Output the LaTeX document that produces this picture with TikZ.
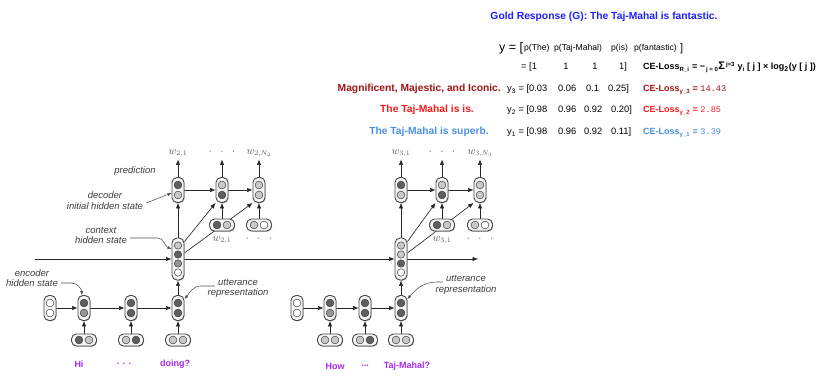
\documentclass[tikz,border=0pt]{standalone}
\usepackage{fontspec}
\setmainfont{Liberation Sans}
\newfontfamily\monofont{Liberation Mono}
\usetikzlibrary{arrows.meta,backgrounds,shadows}
\definecolor{goldblue}{RGB}{30,30,245}
\definecolor{darkred}{RGB}{160,20,20}
\definecolor{brightred}{RGB}{250,25,25}
\definecolor{lightblue}{RGB}{74,144,226}
\definecolor{wordpurple}{RGB}{165,40,245}
\definecolor{celldark}{RGB}{95,95,95}
\definecolor{cellmid}{RGB}{150,150,150}
\definecolor{celllight}{RGB}{200,200,200}
\definecolor{labelgray}{RGB}{60,60,60}
\definecolor{mathgray}{RGB}{85,85,85}
\newcommand\vcell[4]{%
  \node[vbox] (#1) at (#2) {};
  \node[dot,fill=#3] (#1a) at ([yshift=5pt]#1.center) {};
  \node[dot,fill=#4] (#1b) at ([yshift=-5pt]#1.center) {};}
\newcommand\hcell[4]{%
  \node[hbox] (#1) at (#2) {};
  \node[dot,fill=#3] (#1a) at ([xshift=-5pt]#1.center) {};
  \node[dot,fill=#4] (#1b) at ([xshift=5pt]#1.center) {};}
\newcommand\ccell[6]{%
  \node[cbox] (#1) at (#2) {};
  \node[cdot,fill=#3] (#1a) at ([yshift=13.5pt]#1.center) {};
  \node[cdot,fill=#4] (#1b) at ([yshift=4.5pt]#1.center) {};
  \node[cdot,fill=#5] (#1c) at ([yshift=-4.5pt]#1.center) {};
  \node[cdot,fill=#6] (#1d) at ([yshift=-13.5pt]#1.center) {};}
\begin{document}
\begin{tikzpicture}[x=1pt,y=-1pt,
  cellbox/.style={draw=black!72,line width=0.9pt,fill=black!4,rounded corners=5pt,inner sep=0pt,
    drop shadow={shadow xshift=0.6pt,shadow yshift=-0.8pt,opacity=0.45,fill=black!60}},
  vbox/.style={cellbox,minimum width=12pt,minimum height=25pt},
  hbox/.style={cellbox,minimum width=25pt,minimum height=12pt},
  cbox/.style={cellbox,minimum width=12pt,minimum height=42pt},
  dot/.style={circle,draw=black!75,line width=0.5pt,minimum size=7.8pt,inner sep=0pt},
  cdot/.style={circle,draw=black!75,line width=0.5pt,minimum size=7.4pt,inner sep=0pt},
  arr/.style={draw=black!85,line width=0.65pt,-{Latex[length=5.5pt,width=4.5pt]}},
  call/.style={draw=black!70,line width=0.55pt,-{Latex[length=4pt,width=3.2pt]}},
  lbl/.style={font=\fontsize{9.5}{10}\selectfont\itshape,text=labelgray,inner sep=1pt},
  wlbl/.style={font=\fontsize{10.5}{12}\selectfont,text=mathgray,inner sep=1pt,text height=5pt,text depth=2.5pt},
  word/.style={font=\fontsize{9}{10}\selectfont\bfseries,text=wordpurple,inner sep=1pt},
  row/.style={font=\fontsize{9.3}{11}\selectfont,anchor=base west,inner sep=0pt},
  small/.style={font=\fontsize{8.6}{10}\selectfont,anchor=base west,inner sep=0pt},
  ce/.style={font=\fontsize{9}{10}\selectfont\bfseries,anchor=base west,inner sep=0pt},
  sent/.style={font=\fontsize{10.3}{12}\selectfont\bfseries,anchor=base,inner sep=0pt}
]
\useasboundingbox (0,0) rectangle (831,385);

% ---------------- top text ----------------
\node[sent,text=goldblue] (gold) at (604,20) {Gold Response (G): The Taj-Mahal is fantastic.};

\node[row,font=\fontsize{12.5}{14}\selectfont] (yeq) at (499,52) {y = [};
\node[small] (pthe) at (524,51) {p(The)};
\node[small] (ptaj) at (554,51) {p(Taj-Mahal)};
\node[small] (pis) at (611,51) {p(is)};
\node[small] (pfan) at (634,51) {p(fantastic)};
\node[row,font=\fontsize{11}{13}\selectfont] (pclose) at (680,52) {]};

\node[row] (g1) at (521,70) {= [1};
\node[row,anchor=base] (g2) at (566,70) {1};
\node[row,anchor=base] (g3) at (595,70) {1};
\node[row] (g4) at (619,70) {1]};
\node[ce] (ce0) at (643,70) {CE-Loss\textsubscript{R\_i} = −\textsubscript{\,j = 0}{\fontsize{11}{11}\selectfont Σ}\textsuperscript{\,j=3} y\textsubscript{i} [ j ] × log\textsubscript{\scriptsize 2}(y [ j ])};

\node[sent,anchor=base east,text=darkred] (s3) at (501,92) {Magnificent, Majestic, and Iconic.};
\node[row] (a3) at (507,92) {y\textsubscript{3} = [0.03};
\node[row] (b3) at (558,92) {0.06};
\node[row] (c3) at (586,92) {0.1};
\node[row] (d3) at (608,92) {0.25]};
\node[ce,text=darkred] (ce3) at (643,92) {CE-Loss\textsubscript{y\_3} = {\monofont\mdseries\fontsize{8.6}{10}\selectfont 14.43}};

\node[sent,text=brightred] (s2) at (427,113) {The Taj-Mahal is is.};
\node[row] (a2) at (507,113) {y\textsubscript{2} = [0.98};
\node[row] (b2) at (558,113) {0.96};
\node[row] (c2) at (584,113) {0.92};
\node[row] (d2) at (611,113) {0.20]};
\node[ce,text=brightred] (ce2) at (643,113) {CE-Loss\textsubscript{y\_2} = {\monofont\mdseries\fontsize{8.6}{10}\selectfont 2.85}};

\node[sent,text=lightblue] (s1) at (429,135) {The Taj-Mahal is superb.};
\node[row] (a1) at (507,135) {y\textsubscript{1} = [0.98};
\node[row] (b1) at (558,135) {0.96};
\node[row] (c1) at (584,135) {0.92};
\node[row] (d1) at (611,135) {0.11]};
\node[ce,text=lightblue] (ce1) at (643,135) {CE-Loss\textsubscript{y\_1} = {\monofont\mdseries\fontsize{8.6}{10}\selectfont 3.39}};

% ---------------- left network ----------------
\vcell{L0}{50,308}{white}{white}
\vcell{E1}{84,308}{celldark}{cellmid}
\vcell{E2}{131,308}{celldark}{celldark}
\vcell{E3}{178,308}{celldark}{celldark}
\hcell{I1}{84,340}{celldark}{celllight}
\hcell{I2}{131,340}{celllight}{celldark}
\hcell{I3}{178,340}{celllight}{celllight}
\ccell{C1}{178,259}{celllight}{celldark}{cellmid}{white}
\vcell{D1}{178,190}{celldark}{celllight}
\vcell{D2}{222,190}{celllight}{celldark}
\vcell{D3}{259,190}{celllight}{celllight}
\hcell{J2}{222,225}{celldark}{celllight}
\hcell{J3}{259,225}{celllight}{white}

\node[wlbl] (O1) at (178,153) {$w_{2,1}$};
\node[wlbl] (O2) at (222,153) {$\cdot\;\;\cdot\;\;\cdot$};
\node[wlbl] (O3) at (259,153) {$w_{2,N_2}$};
\node[wlbl] (K2) at (222,240) {$w_{2,1}$};
\node[wlbl] (K3) at (259,240) {$\cdot\;\;\cdot\;\;\cdot$};

\node[word] (hi) at (79,364) {Hi};
\node[word] (dl) at (124,364) {. . .};
\node[word] (doing) at (175,364) {doing?};

\node[lbl] (enc1) at (32,273) {encoder};
\node[lbl] (enc2) at (32,283) {hidden state};
\node[lbl] (utt1) at (238,282) {utterance};
\node[lbl] (utt2) at (238,293) {representation};
\node[lbl] (ctx1) at (101,230) {context};
\node[lbl] (ctx2) at (101,240) {hidden state};
\node[lbl] (dec1) at (105,195) {decoder};
\node[lbl] (dec2) at (105,206) {initial hidden state};
\node[lbl] (pred) at (135,171) {prediction};

% ---------------- right network ----------------
\vcell{R0}{297,308}{white}{white}
\vcell{F1}{330,308}{celldark}{cellmid}
\vcell{F2}{365,308}{celldark}{celldark}
\vcell{F3}{401,308}{celldark}{celldark}
\hcell{H1}{330,340}{celllight}{celllight}
\hcell{H2}{365,340}{celllight}{celldark}
\hcell{H3}{401,340}{celllight}{celllight}
\ccell{C2}{401,259}{celllight}{celllight}{celldark}{white}
\vcell{G1}{401,190}{celldark}{celllight}
\vcell{G2}{442,190}{celllight}{celldark}
\vcell{G3}{480,190}{celllight}{celllight}
\hcell{M2}{442,225}{celldark}{celllight}
\hcell{M3}{480,225}{celllight}{white}

\node[wlbl] (P1) at (401,153) {$w_{3,1}$};
\node[wlbl] (P2) at (442,153) {$\cdot\;\;\cdot\;\;\cdot$};
\node[wlbl] (P3) at (480,153) {$w_{3,N_3}$};
\node[wlbl] (Q2) at (442,240) {$w_{3,1}$};
\node[wlbl] (Q3) at (480,240) {$\cdot\;\;\cdot\;\;\cdot$};

\node[word] (how) at (335,366) {How};
\node[word] (dr) at (365,366) {...};
\node[word] (taj) at (407,366) {Taj-Mahal?};

\node[lbl] (uttr1) at (466,278) {utterance};
\node[lbl] (uttr2) at (466,290) {representation};

\coordinate (ctxstart) at (35,259);
\coordinate (ctxend) at (478,259);

% ---------------- connectors ----------------
\begin{pgfonlayer}{background}
\draw[arr] (ctxstart) -- (C1.west);
\draw[arr] (C1.east) -- (C2.west);
\draw[arr] (C2.east) -- (ctxend);

\foreach \a/\b in {L0/E1,E1/E2,E2/E3,R0/F1,F1/F2,F2/F3,D1/D2,D2/D3,G1/G2,G2/G3}
  \draw[arr] (\a.east) -- (\b.west);
\foreach \a/\b in {I1/E1,I2/E2,I3/E3,H1/F1,H2/F2,H3/F3,E3/C1,F3/C2,C1/D1,C2/G1,J2/D2,J3/D3,M2/G2,M3/G3}
  \draw[arr] (\a.north) -- (\b.south);
\foreach \a/\b in {D1/O1,D2/O2,D3/O3,G1/P1,G2/P2,G3/P3}
  \draw[arr,shorten >=1.5pt] (\a.north) -- (\b.south);
\draw[arr] ([yshift=-4pt]C1.north east) -- (D2.south west);
\draw[arr] ([yshift=6pt]C1.east) -- (D3.south west);
\draw[arr] ([yshift=-4pt]C2.north east) -- (G2.south west);
\draw[arr] ([yshift=6pt]C2.east) -- (G3.south west);

\draw[call] ([xshift=2pt]enc2.east) -- ++(10,0) to[out=0,in=95] ([xshift=-2pt]E1.north);
\draw[call] ([shift={(-2pt,-4pt)}]utt1.west) -- ++(-14,0) to[out=180,in=50] ([yshift=-4pt]E3.north east);
\draw[call] ([shift={(-2pt,-4pt)}]uttr1.west) -- ++(-6,0) to[out=180,in=50] ([yshift=-4pt]F3.north east);
\draw[call] ([shift={(2pt,2pt)}]ctx2.east) -- ++(27,0) to[out=0,in=160] ([yshift=10pt]C1.west);
\draw[call] ([shift={(2pt,3pt)}]dec2.east) -- ([yshift=-3pt]D1.west);
\end{pgfonlayer}
\end{tikzpicture}
\end{document}
